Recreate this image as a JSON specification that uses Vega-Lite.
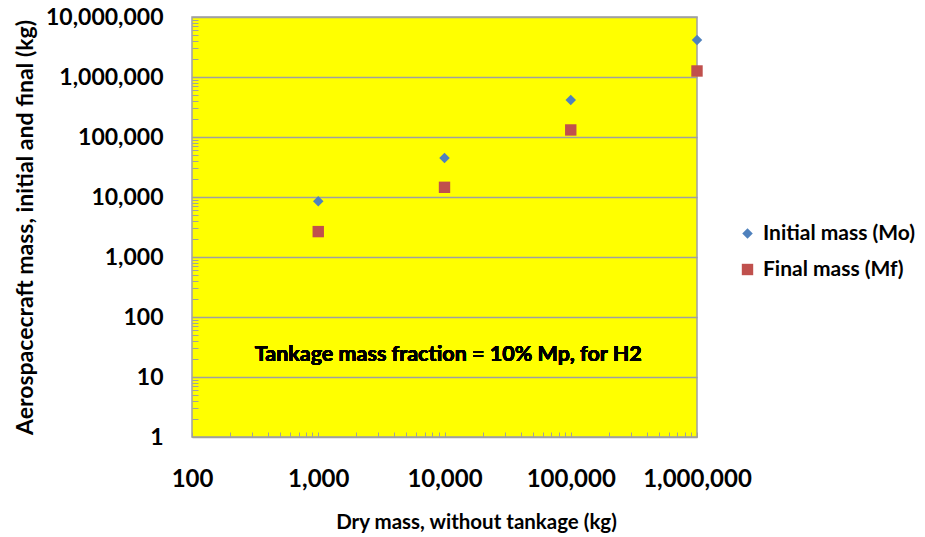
{
  "$schema": "https://vega.github.io/schema/vega-lite/v6.json",
  "width": 505,
  "height": 420,
  "autosize": {"type": "none"},
  "padding": {"left": 192, "top": 17, "right": 228, "bottom": 100},
  "background": "white",
  "config": {
    "view": {"fill": "#FFFF00", "stroke": "#A0A0A0", "strokeWidth": 1.5},
    "font": "Lato",
    "axis": {"domain": false}
  },
  "data": {
    "values": [
      {"dry": 1000, "mass": 8500, "series": "Initial mass (Mo)"},
      {"dry": 10000, "mass": 44700, "series": "Initial mass (Mo)"},
      {"dry": 100000, "mass": 414000, "series": "Initial mass (Mo)"},
      {"dry": 1000000, "mass": 4140000, "series": "Initial mass (Mo)"},
      {"dry": 1000, "mass": 2650, "series": "Final mass (Mf)"},
      {"dry": 10000, "mass": 14500, "series": "Final mass (Mf)"},
      {"dry": 100000, "mass": 131000, "series": "Final mass (Mf)"},
      {"dry": 1000000, "mass": 1260000, "series": "Final mass (Mf)"}
    ]
  },
  "layer": [
    {
      "mark": {"type": "point", "filled": true, "opacity": 1},
      "encoding": {
        "x": {
          "field": "dry", "type": "quantitative",
          "scale": {"type": "log", "domain": [100, 1000000], "nice": false},
          "axis": {
            "title": "Dry mass, without tankage (kg)",
            "titleFont": "Lato", "titleFontSize": 20.5, "titleFontWeight": "bold", "titleColor": "black",
            "titleX": 284, "titlePadding": 21,
            "values": [100,200,300,400,500,600,700,800,900,1000,2000,3000,4000,5000,6000,7000,8000,9000,10000,20000,30000,40000,50000,60000,70000,80000,90000,100000,200000,300000,400000,500000,600000,700000,800000,900000,1000000],
            "labelExpr": "abs(log(datum.value)/LN10 - round(log(datum.value)/LN10)) < 0.000001 ? format(datum.value, ',') : ''",
            "labelFont": "Lato", "labelFontSize": 24, "labelFontWeight": "bold", "labelColor": "black",
            "labelPadding": 35, "labelFlush": false, "labelOverlap": false,
            "tickSize": -5, "tickColor": "#A0A0A0", "grid": false
          }
        },
        "y": {
          "field": "mass", "type": "quantitative",
          "scale": {"type": "log", "domain": [1, 10000000], "nice": false},
          "axis": {
            "title": "Aerospacecraft mass, initial and final (kg)",
            "titleFont": "Lato", "titleFontSize": 23, "titleFontWeight": "bold", "titleColor": "black",
            "titlePadding": 8,
            "values": [1,2,3,4,5,6,7,8,9,10,20,30,40,50,60,70,80,90,100,200,300,400,500,600,700,800,900,1000,2000,3000,4000,5000,6000,7000,8000,9000,10000,20000,30000,40000,50000,60000,70000,80000,90000,100000,200000,300000,400000,500000,600000,700000,800000,900000,1000000,2000000,3000000,4000000,5000000,6000000,7000000,8000000,9000000,10000000],
            "labelExpr": "abs(log(datum.value)/LN10 - round(log(datum.value)/LN10)) < 0.000001 ? format(datum.value, ',') : ''",
            "labelFont": "Lato", "labelFontSize": 23, "labelFontWeight": "bold", "labelColor": "black",
            "labelPadding": 35, "labelOverlap": false, "labelFlush": false,
            "tickSize": -6, "tickColor": "#A0A0A0",
            "grid": true, "gridColor": "#A0A0A0", "gridWidth": 1.5,
            "gridOpacity": {"condition": {"test": "abs(log(datum.value)/LN10 - round(log(datum.value)/LN10)) < 0.000001", "value": 1}, "value": 0}
          }
        },
        "color": {
          "field": "series", "type": "nominal",
          "scale": {"domain": ["Initial mass (Mo)", "Final mass (Mf)"], "range": ["#4F81BD", "#C0504D"]},
          "legend": {
            "title": null, "orient": "none", "legendX": 545, "legendY": 206,
            "labelFont": "Lato", "labelFontSize": 21, "labelFontWeight": "bold", "labelColor": "black",
            "symbolSize": 110, "rowPadding": 14, "labelOffset": 5
          }
        },
        "shape": {
          "field": "series", "type": "nominal",
          "scale": {"domain": ["Initial mass (Mo)", "Final mass (Mf)"], "range": ["diamond", "square"]}
        },
        "size": {
          "field": "series", "type": "nominal",
          "scale": {"domain": ["Initial mass (Mo)", "Final mass (Mf)"], "range": [110, 130]},
          "legend": null
        }
      }
    },
    {
      "mark": {"type": "text", "text": "Tankage mass fraction = 10% Mp, for H2", "font": "Lato", "fontSize": 21.5, "fontWeight": "bold", "color": "black", "align": "center", "baseline": "middle"},
      "encoding": {
        "x": {"datum": 10700, "type": "quantitative"},
        "y": {"datum": 23, "type": "quantitative"}
      }
    }
  ]
}
